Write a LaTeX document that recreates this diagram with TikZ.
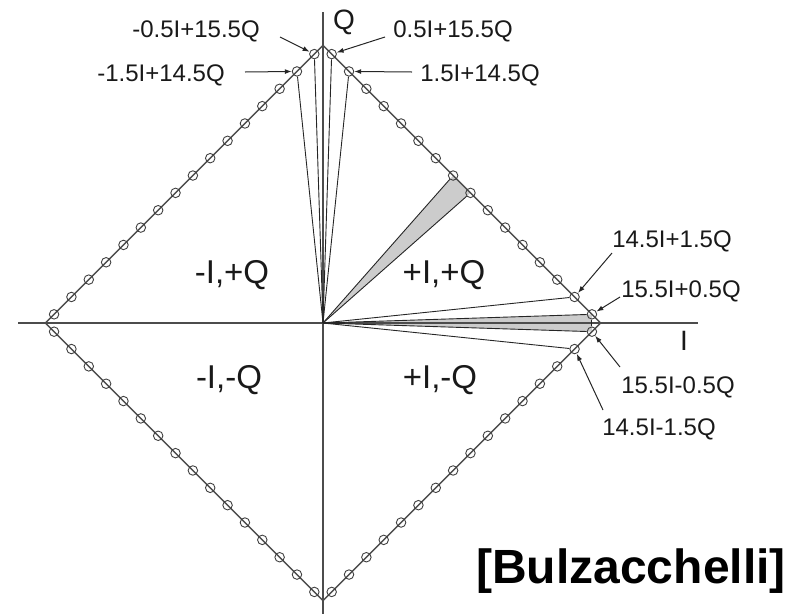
\documentclass[tikz,border=0pt]{standalone}
\usepackage{fontspec}
\setmainfont{Liberation Sans}
\usetikzlibrary{arrows.meta}
\begin{document}
\begin{tikzpicture}[x=1pt,y=-1pt,
  ptc/.style={circle,draw=black!75,line width=0.9pt,minimum size=9.5pt,inner sep=0pt},
  ray/.style={line width=0.9pt,black!85},
  dedge/.style={line width=1.3pt,black!70},
  axisline/.style={line width=1.2pt,black!70},
  lab/.style={font=\fontsize{24}{27}\selectfont,text=black!90,inner sep=0pt,anchor=base},
  quad/.style={font=\fontsize{33}{36}\selectfont,text=black!90,inner sep=0pt,anchor=base},
  axlab/.style={font=\fontsize{28}{30}\selectfont,text=black!90,inner sep=0pt,anchor=base},
  arr/.style={line width=1pt,black!85,-{Latex[length=7pt,width=5pt]}},
  wedgefill/.style={fill=black!20}]
\useasboundingbox (0,0) rectangle (804,614);
\def\U{17.35}
\coordinate (O) at (323,323);
\coordinate (R) at ({323+16*\U},323);
\coordinate (T) at (323,{323-16*\U});
\coordinate (L) at ({323-16*\U},323);
\coordinate (B) at (323,{323+16*\U});
\foreach \k in {0,...,15}{
  \coordinate (cpp\k) at ({323+\U*(\k+0.5)},{323-\U*(15.5-\k)});
  \coordinate (cpm\k) at ({323+\U*(\k+0.5)},{323+\U*(15.5-\k)});
  \coordinate (cmp\k) at ({323-\U*(\k+0.5)},{323-\U*(15.5-\k)});
  \coordinate (cmm\k) at ({323-\U*(\k+0.5)},{323+\U*(15.5-\k)});
}
% shaded wedges
\fill[wedgefill] (O) -- (cpp7) -- (cpp8) -- cycle;
\fill[wedgefill] (O) -- (cpp15) -- (cpm15) -- cycle;
% axes
\coordinate (axL) at (18,323);
\coordinate (axR) at (698,323);
\coordinate (axT) at (323,12);
\coordinate (axB) at (323,614);
\draw[axisline] (axL) -- (axR);
\draw[axisline] (axT) -- (axB);
% diamond
\draw[dedge] (T) -- (R) -- (B) -- (L) -- cycle;
% points
\foreach \k in {0,...,15}{
  \node[ptc] (pp\k) at (cpp\k) {};
  \node[ptc] (pm\k) at (cpm\k) {};
  \node[ptc] (mp\k) at (cmp\k) {};
  \node[ptc] (mm\k) at (cmm\k) {};
}
% rays
\foreach \n in {pp0,pp1,mp0,mp1,pp7,pp8,pp14,pp15,pm15,pm14}{
  \draw[ray] (O) -- (\n);
}
\draw[ray] (pp15.south) -- (pm15.north);
% axis labels
\node[axlab] (qlab) at (344,29) {Q};
\node[axlab] (ilab) at (684,350) {I};
% quadrant labels
\node[quad] (q2) at (232,283) {-I,+Q};
\node[quad] (q1) at (444,283) {+I,+Q};
\node[quad] (q3) at (229,388) {-I,-Q};
\node[quad] (q4) at (440,388) {+I,-Q};
% point labels
\node[lab] (l1) at (196,37) {-0.5I+15.5Q};
\node[lab] (l2) at (453,37) {0.5I+15.5Q};
\node[lab] (l3) at (161,81) {-1.5I+14.5Q};
\node[lab] (l4) at (480,81) {1.5I+14.5Q};
\node[lab] (l5) at (672,247) {14.5I+1.5Q};
\node[lab] (l6) at (681,297) {15.5I+0.5Q};
\node[lab] (l7) at (678,393) {15.5I-0.5Q};
\node[lab] (l8) at (659,435) {14.5I-1.5Q};
\coordinate (t1) at (280,37);
\coordinate (t2) at (385,37);
\coordinate (t3) at (245,72);
\coordinate (t4) at (412,72);
\coordinate (t5) at (612,253);
\coordinate (t6) at (620,297);
\coordinate (t7) at (620,367);
\coordinate (t8) at (603,410);
\draw[arr] (t1) -- (mp0);
\draw[arr] (t2) -- (pp0);
\draw[arr] (t3) -- (mp1);
\draw[arr] (t4) -- (pp1);
\draw[arr] (t5) -- (pp14);
\draw[arr] (t6) -- (pp15);
\draw[arr] (t7) -- (pm15);
\draw[arr] (t8) -- (pm14);
% credit
\node[font=\bfseries\fontsize{48}{52}\selectfont,inner sep=0pt,anchor=base] (credit) at (631,583) {[Bulzacchelli]};
\end{tikzpicture}
\end{document}
